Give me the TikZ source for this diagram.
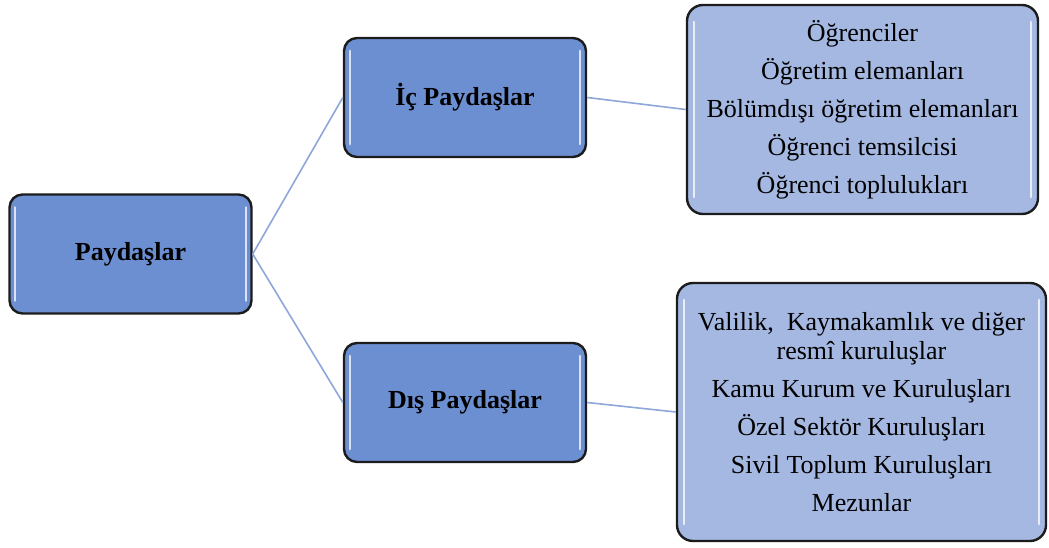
\documentclass[tikz,border=0pt]{standalone}
\usepackage{fontspec}
\setmainfont{Liberation Serif}
\definecolor{darkfill}{HTML}{6C8FD2}
\definecolor{lightfill}{HTML}{A5B8E2}
\definecolor{connblue}{HTML}{8EA6DA}
\definecolor{edge}{HTML}{1C1C1C}
\tikzset{
  basebox/.style={draw=edge, line width=2.4pt, rounded corners=13pt, inner sep=0pt, align=center},
  smallbox/.style={basebox, fill=darkfill, minimum width=242pt, minimum height=119pt,
     font=\fontsize{26}{30}\selectfont\bfseries},
  bigbox/.style={basebox, fill=lightfill, rounded corners=16pt, font=\fontsize{26}{38}\selectfont},
  conn/.style={draw=connblue, line width=1.6pt},
  hl/.style={draw=white, line width=2.2pt, opacity=0.75, line cap=round}
}
\begin{document}
\begin{tikzpicture}[x=1pt,y=-1pt]
\useasboundingbox (0,0) rectangle (1049,548);
\node[smallbox] (root) at (130.5,254) {Paydaşlar};
\node[smallbox] (ic) at (465,97.5) {İç Paydaşlar};
\node[smallbox] (dis) at (465,402.5) {Dış Paydaşlar};
\node[bigbox, minimum width=351pt, minimum height=209pt] (tr) at (862.5,109.5)
  {Öğrenciler\\Öğretim elemanları\\Bölümdışı öğretim elemanları\\Öğrenci temsilcisi\\Öğrenci toplulukları};
\node[bigbox, font=\fontsize{26}{29}\selectfont, minimum width=369pt, minimum height=258pt] (br) at (861.5,412)
  {Valilik,\ \ Kaymakamlık ve diğer\\resmî kuruluşlar\\[9pt]
   Kamu Kurum ve Kuruluşları\\[9pt]Özel Sektör Kuruluşları\\[9pt]Sivil Toplum Kuruluşları\\[9pt]Mezunlar};
% highlights
\foreach \n in {root,ic,dis}{
  \draw[hl] ([shift={(7,14)}]\n.north west) -- ([shift={(7,-14)}]\n.south west);
  \draw[hl] ([shift={(-7,14)}]\n.north east) -- ([shift={(-7,-14)}]\n.south east);
}
\foreach \n in {tr,br}{
  \draw[hl] ([shift={(8,18)}]\n.north west) -- ([shift={(8,-18)}]\n.south west);
  \draw[hl] ([shift={(-8,18)}]\n.north east) -- ([shift={(-8,-18)}]\n.south east);
}
% connectors
\draw[conn] (root.east) -- (ic.west);
\draw[conn] (root.east) -- (dis.west);
\draw[conn] (ic.east) -- (tr.west);
\draw[conn] (dis.east) -- (br.west);
\end{tikzpicture}
\end{document}
